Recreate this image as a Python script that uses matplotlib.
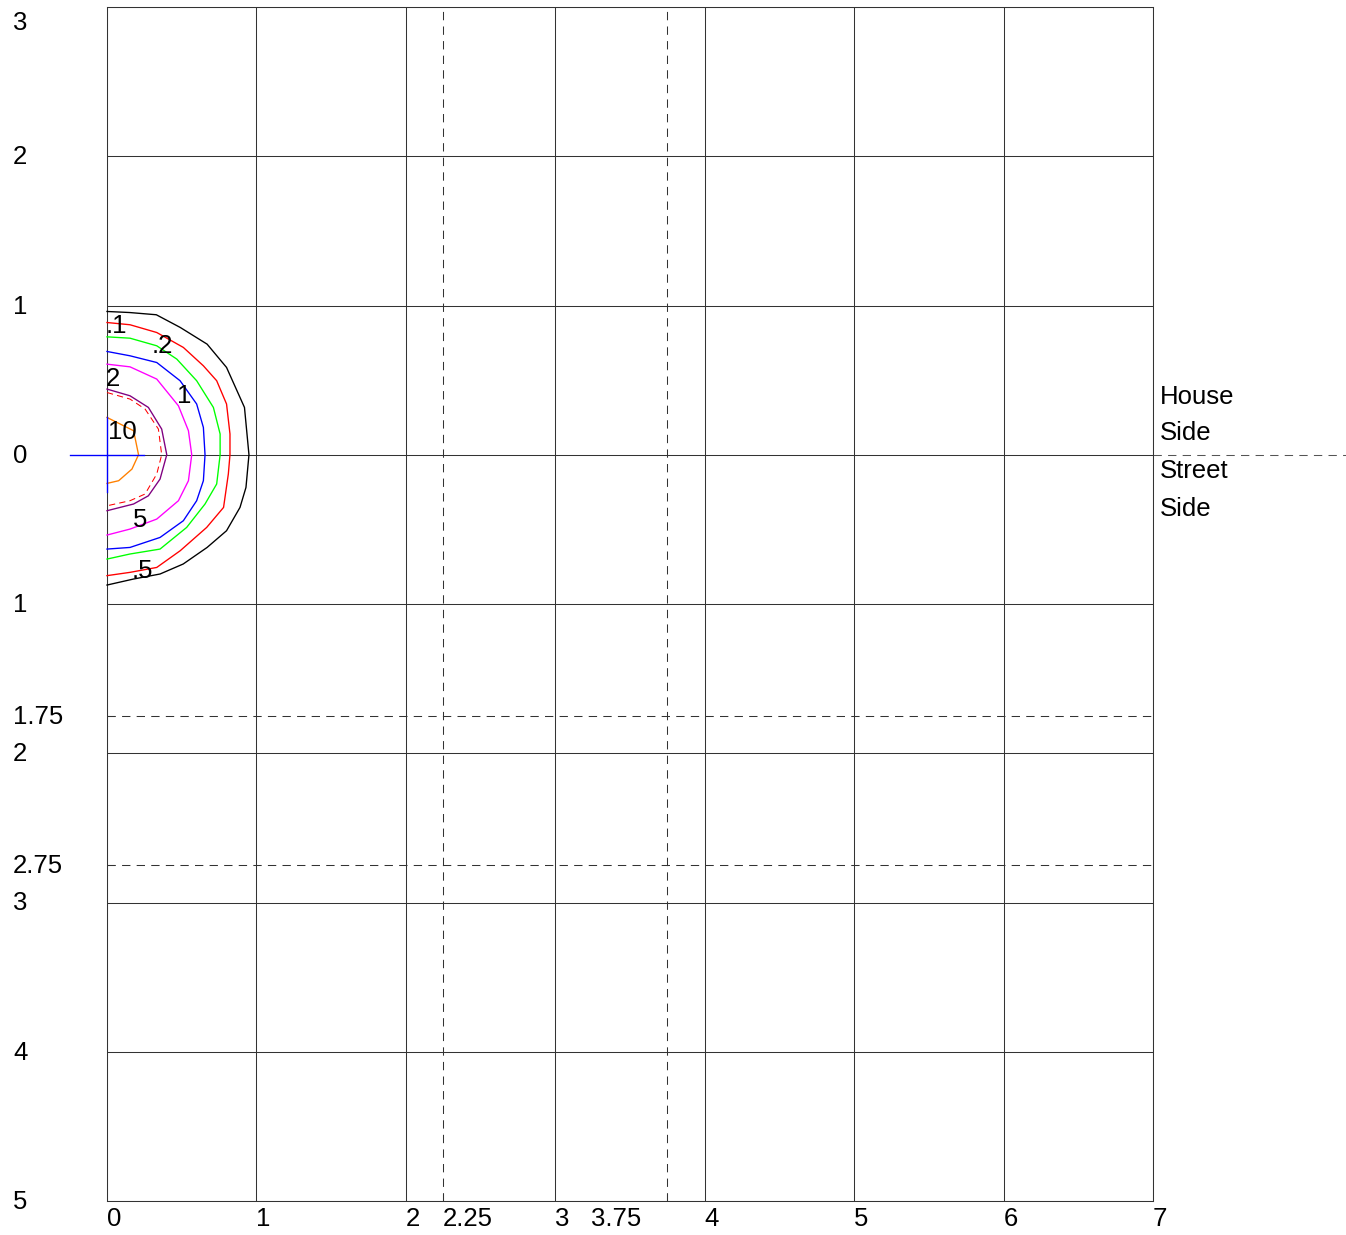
import matplotlib
matplotlib.use("Agg")
import matplotlib.pyplot as plt
from matplotlib.transforms import blended_transform_factory

plt.rcParams['font.family'] = ['Liberation Sans', 'DejaVu Sans']

# ---- data ----
x_ticks = [0, 1, 2, 2.25, 3, 3.75, 4, 5, 6, 7]
x_tick_labels = ['0', '1', '2', '2.25', '3', '3.75', '4', '5', '6', '7']
y_ticks = [3, 2, 1, 0, -1, -1.75, -2, -2.75, -3, -4, -5]
y_tick_labels = ['3', '2', '1', '0', '1', '1.75', '2', '2.75', '3', '4', '5']
dashed_x = [2.25, 3.75]
dashed_y = [-1.75, -2.75]

contour_names = ['0.1', '0.2', '0.5', '1', '2', '5', '5d', '10']
contour_colors = ['black', 'red', '#00ff00', 'blue', '#ff00ff', '#800080', 'red', '#ff8000']
contour_styles = ['-', '-', '-', '-', '-', '-', '--', '-']

c01_x = [0, 0.15, 0.33, 0.49, 0.67, 0.80, 0.92, 0.95, 0.93, 0.89, 0.80, 0.67, 0.51, 0.355, 0.176, 0]
c01_y = [0.96, 0.953, 0.938, 0.853, 0.741, 0.585, 0.317, 0.0, -0.219, -0.353, -0.509, -0.621, -0.732, -0.799, -0.833, -0.873]
c02_x = [0, 0.154, 0.333, 0.511, 0.645, 0.734, 0.80, 0.823, 0.823, 0.812, 0.78, 0.667, 0.49, 0.333, 0.154, 0]
c02_y = [0.886, 0.871, 0.819, 0.719, 0.596, 0.496, 0.340, 0.139, 0.0, -0.129, -0.353, -0.487, -0.643, -0.755, -0.788, -0.810]
c05_x = [0, 0.154, 0.333, 0.467, 0.60, 0.712, 0.757, 0.757, 0.734, 0.656, 0.533, 0.355, 0.154, 0]
c05_y = [0.790, 0.781, 0.730, 0.641, 0.496, 0.317, 0.139, 0.0, -0.196, -0.330, -0.487, -0.632, -0.665, -0.699]
c1_x = [0, 0.154, 0.333, 0.489, 0.60, 0.645, 0.656, 0.645, 0.60, 0.511, 0.355, 0.154, 0]
c1_y = [0.692, 0.663, 0.618, 0.496, 0.340, 0.183, 0.0, -0.174, -0.308, -0.442, -0.554, -0.621, -0.632]
c2_x = [0, 0.154, 0.333, 0.478, 0.545, 0.567, 0.545, 0.478, 0.333, 0.154, 0]
c2_y = [0.607, 0.589, 0.507, 0.328, 0.161, 0.0, -0.174, -0.308, -0.431, -0.498, -0.538]
c5_x = [0, 0.154, 0.277, 0.366, 0.40, 0.355, 0.277, 0.178, 0]
c5_y = [0.440, 0.395, 0.317, 0.172, 0.0, -0.163, -0.275, -0.330, -0.375]
c5d_x = [0, 0.154, 0.255, 0.344, 0.366, 0.333, 0.255, 0.154, 0]
c5d_y = [0.417, 0.373, 0.306, 0.172, 0.0, -0.129, -0.263, -0.308, -0.342]
c10_x = [0, 0.178, 0.211, 0.167, 0.078, 0]
c10_y = [0.25, 0.161, 0.0, -0.096, -0.174, -0.192]
contours_x = [c01_x, c02_x, c05_x, c1_x, c2_x, c5_x, c5d_x, c10_x]
contours_y = [c01_y, c02_y, c05_y, c1_y, c2_y, c5_y, c5d_y, c10_y]

label_texts = ['.1', '.2', '1', '2', '10', '5', '.5']
label_x = [0.06, 0.37, 0.515, 0.04, 0.10, 0.22, 0.24]
label_y = [0.86, 0.73, 0.395, 0.51, 0.154, -0.435, -0.78]

cross_arm = 0.25
side_texts = ['House', 'Side', 'Street', 'Side']
side_y = [0.395, 0.154, -0.10, -0.355]

# ---- figure ----
W, H = 1346, 1235
fig = plt.figure(figsize=(W / 100, H / 100), dpi=100)
ax = fig.add_axes([107 / W, (H - 1201) / H, (1153 - 107) / W, (1201 - 7) / H])
ax.set_xlim(0, 7)
ax.set_ylim(-5, 3)

grid_col = '#333333'
lw = 0.75
for v in range(0, 8):
    ax.axvline(v, color=grid_col, lw=lw, zorder=1)
for v in range(-5, 4):
    ax.axhline(v, color=grid_col, lw=lw, zorder=1)
for v in dashed_x:
    ax.axvline(v, color=grid_col, lw=lw, dashes=(8, 6), zorder=1)
for v in dashed_y:
    ax.axhline(v, color=grid_col, lw=lw, dashes=(8, 6), zorder=1)
# house/street dashed divider outside the axes
ax.plot([7, 8.4], [0, 0], color='#555555', lw=lw, dashes=(8, 6), clip_on=False)

for s in ax.spines.values():
    s.set_color(grid_col)
    s.set_linewidth(lw)

ax.set_xticks(dashed_x)
ax.set_yticks(dashed_y)
ax.tick_params(direction='in', length=5, width=lw, color=grid_col,
               labelbottom=False, labelleft=False)

fs = 18.5
# x tick labels
for v, t in zip(x_ticks, x_tick_labels):
    pos = v
    if t == '3.75':
        pos = v - 0.51
    ax.annotate(t, (pos, -5), xytext=(0, -6), textcoords='offset pixels',
                ha='left', va='top', fontsize=fs, annotation_clip=False)
# y tick labels
trans_y = blended_transform_factory(fig.transFigure, ax.transData)
for v, t in zip(y_ticks, y_tick_labels):
    dy = -16 if v == 3 else -1
    ax.annotate(t, (13 / W, v), xycoords=trans_y, xytext=(0, dy),
                textcoords='offset pixels', ha='left', va='center', fontsize=fs)

# contours
for xs, ys, c, ls in zip(contours_x, contours_y, contour_colors, contour_styles):
    if ls == '--':
        ax.plot(xs, ys, color=c, lw=lw, dashes=(6, 4), zorder=3, clip_on=False)
    else:
        ax.plot(xs, ys, color=c, lw=lw * 1.3, zorder=3, clip_on=False)

# source cross
ax.plot([-cross_arm, cross_arm], [0, 0], color='blue', lw=lw * 1.3, zorder=4, clip_on=False)
ax.plot([0, 0], [-cross_arm, cross_arm], color='blue', lw=lw * 1.3, zorder=4, clip_on=False)

for t, x, y in zip(label_texts, label_x, label_y):
    ax.text(x, y, t, ha='center', va='center', fontsize=fs, zorder=5)

for t, y in zip(side_texts, side_y):
    ax.annotate(t, (7.047, y), xytext=(0, -1), textcoords='offset pixels',
                ha='left', va='center', fontsize=fs, annotation_clip=False)

fig.savefig('out.png', dpi=100)
